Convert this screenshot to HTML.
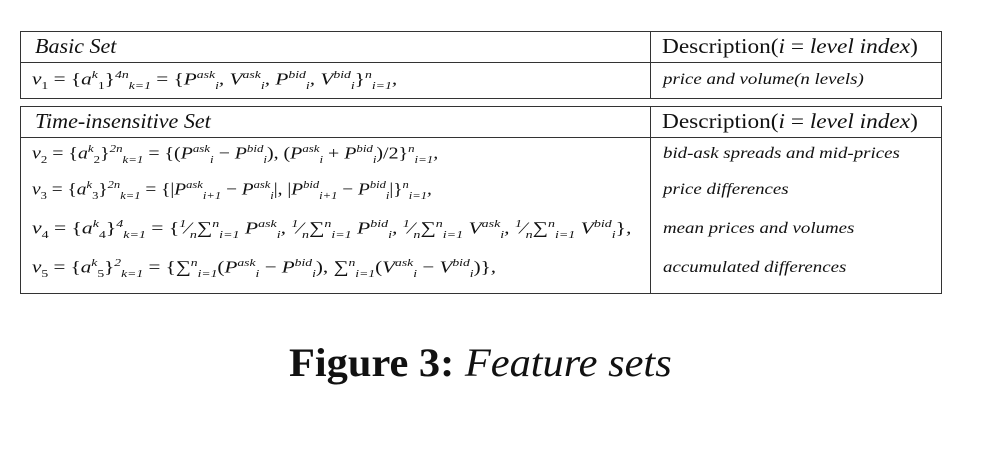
<!DOCTYPE html>
<html><head><meta charset="utf-8"><style>
body{margin:0;width:988px;height:456px;background:#fff;position:relative;overflow:hidden;font-family:"Liberation Serif",serif;color:#111}
.box{position:absolute;border:1.5px solid #333;box-sizing:border-box}
.h{position:absolute;height:0;border-top:1.5px solid #333}
.v{position:absolute;width:0;border-left:1.5px solid #333}
.t{position:absolute;white-space:nowrap;line-height:1;transform-origin:0 50%}
.hd{font-size:21px;font-style:italic;transform:scaleX(1.05)}
.dh{font-size:21px;transform:scaleX(1.11)}
.m{font-size:17px;font-style:italic}
.m sup,.m sub{font-size:11px}
.d{font-size:16px;font-style:italic;transform:scaleX(1.18)}
.r{font-style:normal}
</style></head><body>
<div class="box" style="left:20px;top:31px;width:922px;height:68px"></div>
<div class="h" style="left:20px;top:62px;width:922px"></div>
<div class="v" style="left:650px;top:31px;height:68px"></div>
<div class="t hd" style="left:35px;top:36px">Basic Set</div>
<div class="t dh" style="left:662px;top:36px">Description(<i>i</i> = <i>level index</i>)</div>
<div class="t m" style="left:32px;top:70px;transform:scaleX(1.25)">v<sub class="r">1</sub> <span class="r">= {</span>a<sup>k</sup><sub class="r">1</sub><span class="r">}</span><sup>4n</sup><sub>k=1</sub> <span class="r">= {</span>P<sup>ask</sup><sub>i</sub>, V<sup>ask</sup><sub>i</sub>, P<sup>bid</sup><sub>i</sub>, V<sup>bid</sup><sub>i</sub><span class="r">}</span><sup>n</sup><sub>i=1</sub>,</div>
<div class="t d" style="left:663px;top:72px">price and volume(n levels)</div>

<div class="box" style="left:20px;top:106px;width:922px;height:188px"></div>
<div class="h" style="left:20px;top:137px;width:922px"></div>
<div class="v" style="left:650px;top:106px;height:188px"></div>
<div class="t hd" style="left:35px;top:111px">Time-insensitive Set</div>
<div class="t dh" style="left:662px;top:111px">Description(<i>i</i> = <i>level index</i>)</div>

<div class="t m" style="left:32px;top:144px;transform:scaleX(1.17)">v<sub class="r">2</sub> <span class="r">= {</span>a<sup>k</sup><sub class="r">2</sub><span class="r">}</span><sup>2n</sup><sub>k=1</sub> <span class="r">= {(</span>P<sup>ask</sup><sub>i</sub> <span class="r">−</span> P<sup>bid</sup><sub>i</sub><span class="r">), (</span>P<sup>ask</sup><sub>i</sub> <span class="r">+</span> P<sup>bid</sup><sub>i</sub><span class="r">)/2}</span><sup>n</sup><sub>i=1</sub>,</div>
<div class="t d" style="left:663px;top:146px">bid-ask spreads and mid-prices</div>

<div class="t m" style="left:32px;top:180px;transform:scaleX(1.14)">v<sub class="r">3</sub> <span class="r">= {</span>a<sup>k</sup><sub class="r">3</sub><span class="r">}</span><sup>2n</sup><sub>k=1</sub> <span class="r">= {|</span>P<sup>ask</sup><sub>i+1</sub> <span class="r">−</span> P<sup>ask</sup><sub>i</sub><span class="r">|, |</span>P<sup>bid</sup><sub>i+1</sub> <span class="r">−</span> P<sup>bid</sup><sub>i</sub><span class="r">|}</span><sup>n</sup><sub>i=1</sub>,</div>
<div class="t d" style="left:663px;top:182px">price differences</div>

<div class="t m" style="left:32px;top:219px;transform:scaleX(1.27)">v<sub class="r">4</sub> <span class="r">= {</span>a<sup>k</sup><sub class="r">4</sub><span class="r">}</span><sup>4</sup><sub>k=1</sub> <span class="r">= {</span><sup>1</sup>⁄<sub>n</sub><span class="r">∑</span><sup>n</sup><sub>i=1</sub> P<sup>ask</sup><sub>i</sub>, <sup>1</sup>⁄<sub>n</sub><span class="r">∑</span><sup>n</sup><sub>i=1</sub> P<sup>bid</sup><sub>i</sub>, <sup>1</sup>⁄<sub>n</sub><span class="r">∑</span><sup>n</sup><sub>i=1</sub> V<sup>ask</sup><sub>i</sub>, <sup>1</sup>⁄<sub>n</sub><span class="r">∑</span><sup>n</sup><sub>i=1</sub> V<sup>bid</sup><sub>i</sub><span class="r">}</span>,</div>
<div class="t d" style="left:663px;top:221px">mean prices and volumes</div>

<div class="t m" style="left:32px;top:258px;transform:scaleX(1.24)">v<sub class="r">5</sub> <span class="r">= {</span>a<sup>k</sup><sub class="r">5</sub><span class="r">}</span><sup>2</sup><sub>k=1</sub> <span class="r">= {∑</span><sup>n</sup><sub>i=1</sub><span class="r">(</span>P<sup>ask</sup><sub>i</sub> <span class="r">−</span> P<sup>bid</sup><sub>i</sub><span class="r">), ∑</span><sup>n</sup><sub>i=1</sub><span class="r">(</span>V<sup>ask</sup><sub>i</sub> <span class="r">−</span> V<sup>bid</sup><sub>i</sub><span class="r">)}</span>,</div>
<div class="t d" style="left:663px;top:260px">accumulated differences</div>

<div class="t" style="left:289px;top:343px;font-size:40px;transform:scaleX(1.06)"><b>Figure 3:</b> <i>Feature sets</i></div>
</body></html>
